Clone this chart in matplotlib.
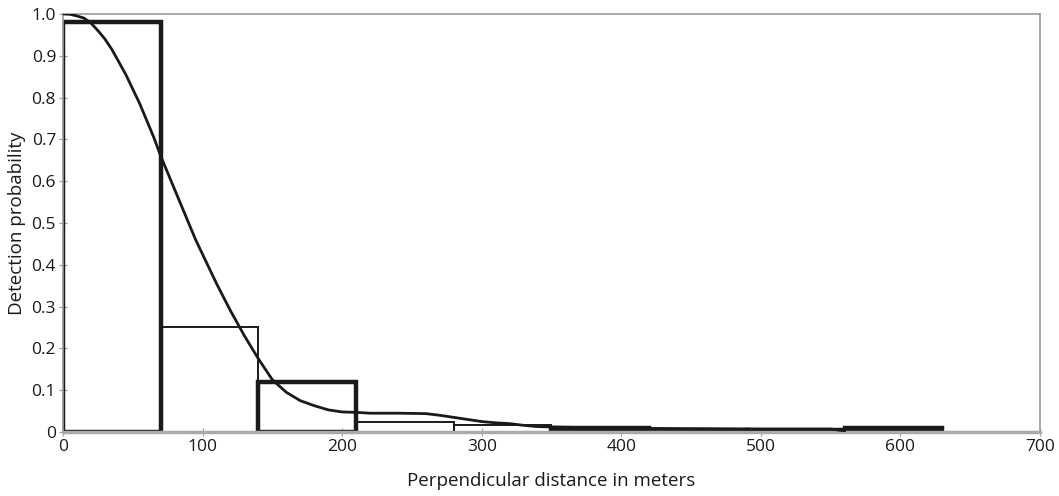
import matplotlib
matplotlib.use("Agg")
import matplotlib.pyplot as plt
import numpy as np

plt.rcParams['font.family'] = ['Open Sans', 'DejaVu Sans']

# Histogram bins (perpendicular distance, m) and heights
bin_left = [0, 70, 140, 210, 280, 350, 420, 490, 560]
bin_width = 70
bin_height = [0.98, 0.25, 0.12, 0.025, 0.017, 0.01, 0.005, 0.005, 0.01]
bin_thick = [True, False, True, False, False, True, True, True, True]

# Fitted detection function
curve_x = [0, 5, 10, 15, 20, 25, 30, 35, 40, 45, 50, 55, 60, 65, 70, 75, 80, 85, 90,
           95, 100, 110, 120, 130, 140, 150, 160, 170, 180, 190, 200, 210, 220,
           240, 260, 270, 280, 290, 300, 310, 320, 330, 340, 350, 400, 450, 500,
           550, 560]
curve_y = [1.0, 0.999, 0.995, 0.99, 0.978, 0.96, 0.94, 0.915, 0.885, 0.855, 0.82,
           0.785, 0.745, 0.705, 0.66, 0.62, 0.58, 0.54, 0.50, 0.46, 0.425, 0.355,
           0.29, 0.23, 0.175, 0.125, 0.095, 0.075, 0.063, 0.053, 0.048, 0.047,
           0.045, 0.045, 0.044, 0.040, 0.035, 0.030, 0.025, 0.022, 0.020, 0.016,
           0.013, 0.012, 0.009, 0.008, 0.007, 0.007, 0.003]

x_ticks = [0, 100, 200, 300, 400, 500, 600, 700]
y_ticks = [0, 0.1, 0.2, 0.3, 0.4, 0.5, 0.6, 0.7, 0.8, 0.9, 1.0]
y_tick_labels = ['0', '0.1', '0.2', '0.3', '0.4', '0.5', '0.6', '0.7', '0.8', '0.9', '1.0']

fig = plt.figure(figsize=(10.59, 4.96), dpi=100)
ax = fig.add_axes([0.0595, 0.129, 0.9225, 0.843])

for l, h, t in zip(bin_left, bin_height, bin_thick):
    ax.bar(l, h, width=bin_width, align='edge', fill=False,
           edgecolor='#1a1a1a', linewidth=3.2 if t else 1.4, zorder=2)

ax.plot(curve_x, curve_y, color='#1a1a1a', linewidth=2.0, zorder=4)

ax.set_xlim(0, 700)
ax.set_ylim(0, 1.0)
ax.set_xticks(x_ticks)
ax.set_yticks(y_ticks)
ax.set_yticklabels(y_tick_labels)
ax.tick_params(axis='both', direction='inout', length=6, width=0.8,
               color='#999999', labelsize=12.5, labelcolor='#1a1a1a', pad=2)
for s in ax.spines.values():
    s.set_color('#999999')
    s.set_linewidth(1.2)
    s.set_zorder(3)
ax.spines['bottom'].set_linewidth(2.5)
ax.spines['bottom'].set_color('#aaaaaa')

ax.set_xlabel('Perpendicular distance in meters', fontsize=13.5, color='#1a1a1a', labelpad=12)
ax.set_ylabel('Detection probability', fontsize=13.5, color='#1a1a1a', labelpad=4)

fig.savefig('out.png', dpi=100)
